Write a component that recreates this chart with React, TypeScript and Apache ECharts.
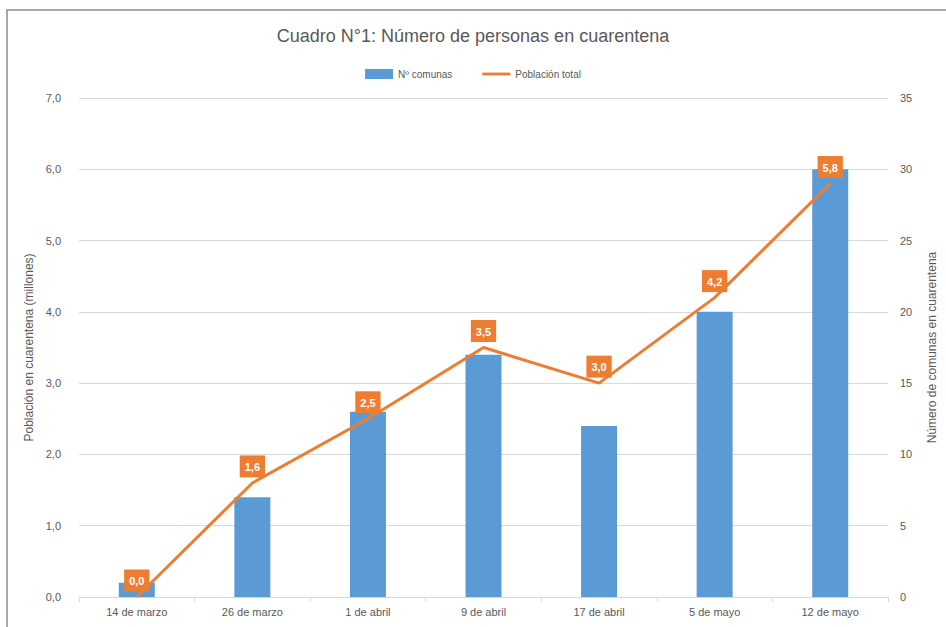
import React, { useEffect, useRef } from "react";
import * as echarts from "echarts";

const categories = ["14 de marzo", "26 de marzo", "1 de abril", "9 de abril", "17 de abril", "5 de mayo", "12 de mayo"];
const comunas = [1, 7, 13, 17, 12, 20, 30];
const poblacion = [0.0, 1.6, 2.5, 3.5, 3.0, 4.2, 5.8];

const FONT = "Liberation Sans";
const GREY = "#595959";
const ORANGE = "#ED7D31";
const fmt = (v: number) => Number(v).toFixed(1).replace(".", ",");

export default function App() {
  const ref = useRef<HTMLDivElement>(null);
  useEffect(() => {
    if (!ref.current) return;
    const chart = echarts.init(ref.current, null, { renderer: "svg" });
    chart.setOption({
      animation: false,
      backgroundColor: "#ffffff",
      textStyle: { fontFamily: FONT },
      title: {
        text: "Cuadro N°1: Número de personas en cuarentena",
        left: "center",
        top: 22,
        textStyle: { fontSize: 18, fontWeight: "normal", color: GREY, fontFamily: FONT },
      },
      legend: {
        top: 64,
        left: "center",
        itemGap: 30,
        itemWidth: 28,
        itemHeight: 10,
        textStyle: { fontSize: 10, color: GREY, fontFamily: FONT },
        data: [
          { name: "Nº comunas", icon: "rect" },
          { name: "Población total", icon: "path://M0,0 L30,0 L30,3 L0,3 Z", itemStyle: { color: ORANGE } },
        ],
      },
      graphic: [
        {
          type: "rect",
          shape: { x: 7, y: 10, width: 1000, height: 700 },
          style: { fill: "none", stroke: "#8c8c8c", lineWidth: 1.5 },
          silent: true,
        },
      ],
      grid: { left: 79, right: 54, top: 98, bottom: 30 },
      xAxis: {
        type: "category",
        data: categories,
        boundaryGap: true,
        axisLine: { lineStyle: { color: "#d9d9d9", width: 1 } },
        axisTick: { show: true, length: 5, lineStyle: { color: "#d9d9d9" } },
        axisLabel: { fontSize: 11, color: GREY, margin: 9, fontFamily: FONT },
      },
      yAxis: [
        {
          type: "value",
          min: 0,
          max: 7,
          interval: 1,
          position: "left",
          name: "Población en cuarentena (millones)",
          nameLocation: "middle",
          nameRotate: 90,
          nameGap: 30,
          nameTextStyle: { fontSize: 12, color: GREY, fontFamily: FONT },
          axisLine: { show: false },
          axisTick: { show: false },
          axisLabel: { fontSize: 11, color: GREY, margin: 18, formatter: fmt },
          splitLine: { lineStyle: { color: "#d9d9d9", width: 1 } },
        },
        {
          type: "value",
          min: 0,
          max: 35,
          interval: 5,
          position: "right",
          name: "Número de comunas en cuarentena",
          nameLocation: "middle",
          nameRotate: 90,
          nameGap: 38,
          nameTextStyle: { fontSize: 12, color: GREY, fontFamily: FONT },
          axisLine: { show: false },
          axisTick: { show: false },
          axisLabel: { fontSize: 11, color: GREY, margin: 12 },
          splitLine: { show: false },
        },
      ],
      series: [
        {
          name: "Nº comunas",
          type: "bar",
          yAxisIndex: 1,
          data: comunas,
          barWidth: 36,
          itemStyle: { color: "#5B9BD5" },
        },
        {
          name: "Población total",
          type: "line",
          yAxisIndex: 0,
          data: poblacion,
          symbol: "none",
          lineStyle: { color: ORANGE, width: 3 },
          itemStyle: { color: ORANGE },
          z: 5,
        },
        {
          name: "etiquetas",
          type: "scatter",
          yAxisIndex: 0,
          data: poblacion,
          symbolSize: 1,
          itemStyle: { color: "rgba(0,0,0,0)", opacity: 1 },
          label: {
            show: true,
            position: "top",
            distance: 5,
            backgroundColor: ORANGE,
            color: "#ffffff",
            fontWeight: "bold",
            fontSize: 11,
            opacity: 1,
            padding: [6, 5, 5, 5],
            formatter: (p: any) => fmt(p.value),
          },
          z: 6,
        },
      ],
    });
    return () => chart.dispose();
  }, []);
  return <div ref={ref} style={{ position: "fixed", left: 0, top: 0, width: 946, height: 627 }} />;
}
